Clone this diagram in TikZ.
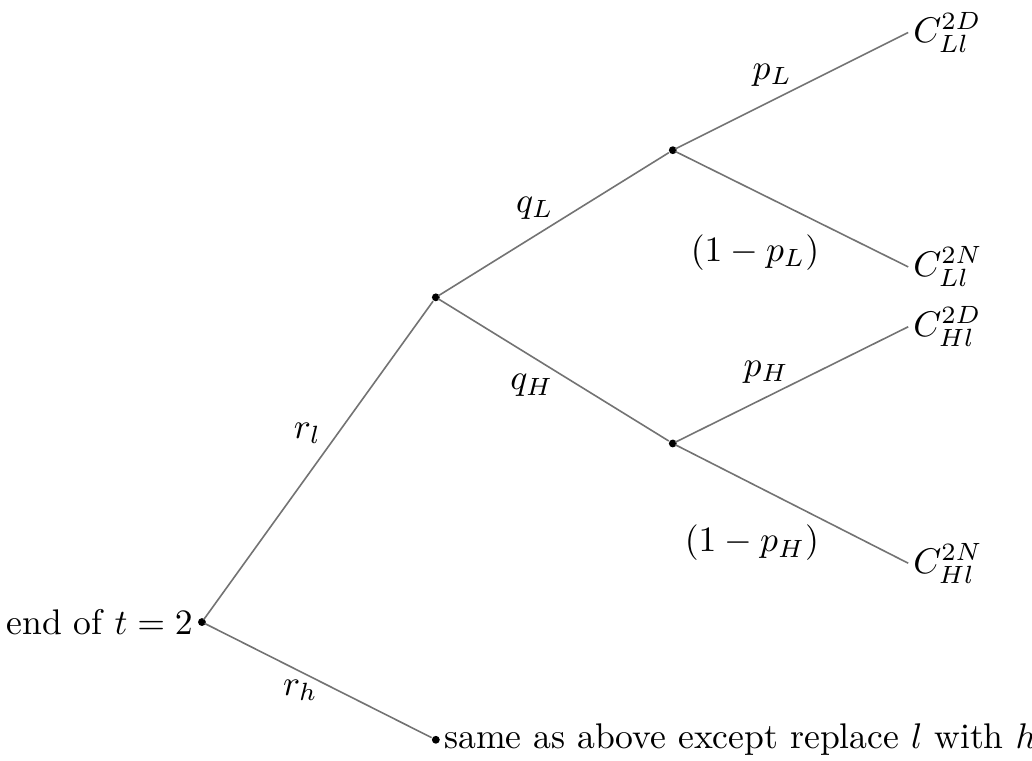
\documentclass[tikz,border=0pt]{standalone}
\begin{document}
\begin{tikzpicture}[line width=0.45pt,
    pt/.style={circle, fill, inner sep=0pt, minimum size=2.2pt},
    br/.style={draw=black!55, shorten <=-0.5pt},
    leaf/.style={anchor=west, inner sep=1.2pt}]
    \useasboundingbox (-1.99,-1.36) rectangle (8.18,6.13);
    % 分岐点
    \node[pt] (r) at (0,0) {};
    \node[pt] (a) at (2.305,3.20) {};
    \node[pt] (b) at (4.64,4.65) {};
    \node[pt] (c) at (4.64,1.76) {};
    \node[pt] (e) at (2.305,-1.16) {};
    % 終端
    \node[leaf] (lld) at (6.96,5.81) {$C^{2D}_{Ll}$};
    \node[leaf] (lln) at (6.96,3.50) {$C^{2N}_{Ll}$};
    \node[leaf] (hld) at (6.96,2.91) {$C^{2D}_{Hl}$};
    \node[leaf] (hln) at (6.96,0.58) {$C^{2N}_{Hl}$};
    % 枝
    \draw[br] (r) -- (a);
    \draw[br] (r) -- (e);
    \draw[br] (a) -- (b);
    \draw[br] (a) -- (c);
    \draw[br] (b) -- (lld.west);
    \draw[br] (b) -- (lln.west);
    \draw[br] (c) -- (hld.west);
    \draw[br] (c) -- (hln.west);
    % 確率
    \node (rl) at (1.04,1.86) {$r_l$};
    \node (rh) at (0.97,-0.67) {$r_h$};
    \node (ql) at (3.28,4.08) {$q_L$};
    \node (qh) at (3.25,2.33) {$q_H$};
    \node (pl) at (5.62,5.39) {$p_L$};
    \node (npl) at (5.45,3.64) {$(1-p_L)$};
    \node (ph) at (5.56,2.46) {$p_H$};
    \node (nph) at (5.42,0.78) {$(1-p_H)$};
    % 説明
    \node[anchor=east, inner sep=1pt] (t2) at (r.west) {end of $t=2$};
    \node[anchor=west, inner sep=0.8pt] (same) at (e.east) {same as above except replace $l$ with $h$};
\end{tikzpicture}
\end{document}
